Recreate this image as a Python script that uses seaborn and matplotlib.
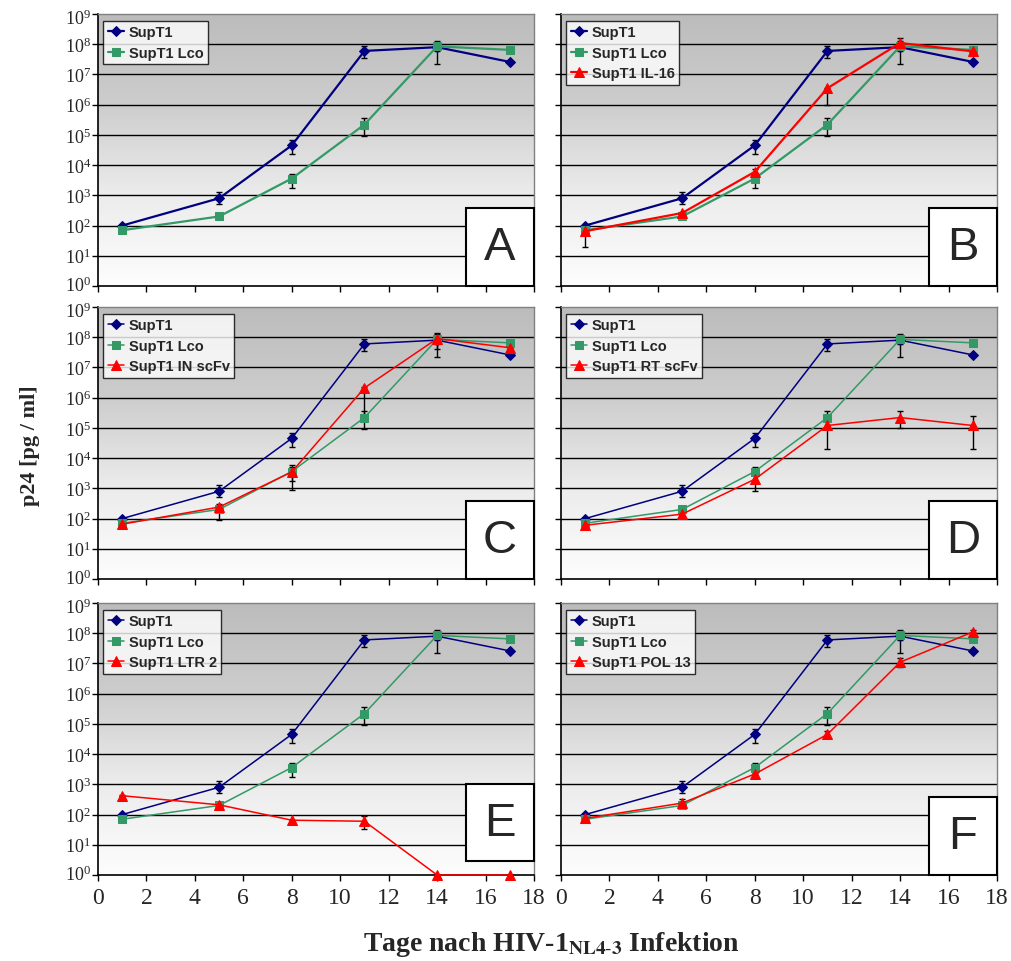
import numpy as np
import matplotlib
matplotlib.use("Agg")
import matplotlib.pyplot as plt
from matplotlib.colors import LinearSegmentedColormap
from matplotlib.patches import Rectangle
from matplotlib.transforms import ScaledTranslation
from matplotlib.ticker import LogFormatterMathtext, NullLocator, MultipleLocator
import seaborn as sns

# ── Data ──────────────────────────────────────────────────────────────────────
DAYS = [1, 5, 8, 11, 14, 17]

SUPT1    = [100, 800, 4.5e4, 6.0e7, 8.0e7, 2.6e7]
SUPT1_LO = [95, 500, 2.4e4, 3.4e7, 6.0e7, 2.5e7]
SUPT1_HI = [108, 1250, 7.0e4, 9.0e7, 1.1e8, 2.8e7]

LCO    = [70, 200, 3.6e3, 2.2e5, 8.5e7, 6.5e7]
LCO_LO = [66, 190, 1.8e3, 9.0e4, 2.3e7, 6.0e7]
LCO_HI = [74, 210, 5.0e3, 3.5e5, 1.3e8, 7.0e7]

PANELS    = ["A", "B", "C", "D", "E", "F"]
TREATMENT = [None, "SupT1 IL-16", "SupT1 IN scFv", "SupT1 RT scFv", "SupT1 LTR 2", "SupT1 POL 13"]
TREAT_VALS = [
    None,
    [65, 260, 6.0e3, 3.5e6, 1.1e8, 5.8e7],
    [65, 240, 3.5e3, 2.1e6, 9.0e7, 4.5e7],
    [60, 140, 2.0e3, 1.2e5, 2.2e5, 1.2e5],
    [420, 210, 65, 60, 1, 1],
    [75, 240, 2.2e3, 4.5e4, 1.1e7, 1.1e8],
]
TREAT_LO = [
    None,
    [20, 230, 5.0e3, 1.0e6, 9.0e7, 5.5e7],
    [60, 90, 900, 2.2e5, 4.0e7, 4.3e7],
    [55, 120, 800, 2.0e4, 1.0e5, 2.0e4],
    [400, 200, 62, 33, 1, 1],
    [70, 170, 2.0e3, 3.5e4, 7.5e6, 9.0e7],
]
TREAT_HI = [
    None,
    [70, 290, 7.5e3, 3.5e6, 1.6e8, 6.0e7],
    [70, 300, 6.0e3, 2.2e6, 1.4e8, 4.7e7],
    [65, 160, 3.0e3, 2.5e5, 3.5e5, 2.5e5],
    [440, 220, 68, 90, 1, 1],
    [80, 320, 2.4e3, 6.0e4, 1.5e7, 1.3e8],
]

X_TICKS = list(range(0, 19, 2))
Y_TICKS = [10.0 ** e for e in range(0, 10)]

# ── Style ────────────────────────────────────────────────────────────────────
sns.set_style("white")
plt.rcParams["font.family"] = ["Liberation Sans", "DejaVu Sans"]
plt.rcParams["mathtext.fontset"] = "stix"
plt.rcParams["mathtext.default"] = "regular"

C_SUPT1 = "#000080"
C_LCO = "#339966"
C_TREAT = "#ff0000"
LW = [1.6, 1.6, 1.1, 1.1, 1.1, 1.1]
BOX_Y = [0.0, 0.0, 0.0, 0.0, 0.05, 0.0]

grad = LinearSegmentedColormap.from_list("bg", ["#bcbcbc", "#cdcdcd", "#ececec", "#fdfdfd"])

fig = plt.figure(figsize=(10.11, 9.62), dpi=100)
W, H = 1011, 962
col_left = [98, 561]
row_top = [15, 308, 604]
ax_w, ax_h = 436, 272
left_axes = []

for i, letter in enumerate(PANELS):
    r, c = divmod(i, 2)
    ax = fig.add_axes([col_left[c] / W, (H - row_top[r] - ax_h) / H, ax_w / W, ax_h / H])
    ax.set_yscale("log")
    ax.set_xlim(0, 18)
    ax.set_ylim(1, 1e9)
    ax.set_autoscale_on(False)

    # gradient background
    ax.imshow(np.linspace(0, 1, 256).reshape(-1, 1), extent=[0, 1, 0, 1],
              transform=ax.transAxes, cmap=grad, aspect="auto", zorder=0)
    for e in range(1, 9):
        ax.axhline(10 ** e, color="black", lw=1, zorder=1)

    series = [("SupT1", SUPT1, SUPT1_LO, SUPT1_HI, C_SUPT1, "D", 5),
              ("SupT1 Lco", LCO, LCO_LO, LCO_HI, C_LCO, "s", 6)]
    if TREATMENT[i]:
        series.append((TREATMENT[i], TREAT_VALS[i], TREAT_LO[i], TREAT_HI[i], C_TREAT, "^", 6.5))

    for name, vals, lo, hi, col, mk, ms in series:
        v = np.array(vals, dtype=float)
        yerr = [v - np.array(lo), np.array(hi) - v]
        ax.errorbar(DAYS, v, yerr=yerr, fmt="none", ecolor="black", elinewidth=1,
                    capsize=2.5, capthick=1, zorder=2)
        sns.lineplot(x=DAYS, y=vals, color=col, marker=mk, markersize=ms,
                     markeredgecolor=col, lw=LW[i], label=name, ax=ax, zorder=3,
                     clip_on=False)

    ax.set_xlim(0, 18)
    ax.set_ylim(1, 1e9)

    # spines
    for s in ["left", "bottom"]:
        ax.spines[s].set_color("black")
        ax.spines[s].set_linewidth(1.2)
    for s in ["top", "right"]:
        ax.spines[s].set_color("#808080")
        ax.spines[s].set_linewidth(1)

    ax.set_yticks(Y_TICKS)
    ax.yaxis.set_minor_locator(NullLocator())
    ax.xaxis.set_major_locator(MultipleLocator(2))
    ax.tick_params(axis="both", direction="out", length=4, width=1, color="black",
                   left=True, bottom=True)
    if c == 0:
        ax.yaxis.set_major_formatter(LogFormatterMathtext())
        ax.tick_params(axis="y", labelsize=13, pad=1)
        left_axes.append(ax)
    else:
        ax.tick_params(axis="y", labelleft=False)
    if r == 2:
        ax.set_xticks(X_TICKS)
        ax.set_xticklabels([str(t) for t in X_TICKS], fontfamily="Liberation Serif")
        ax.tick_params(axis="x", labelsize=17, pad=5)
    else:
        ax.tick_params(axis="x", labelbottom=False)
    ax.set_xlabel("")
    ax.set_ylabel("")

    leg = ax.legend(loc="upper left", bbox_to_anchor=(0.012, 0.975), borderaxespad=0,
                    fancybox=False, frameon=True, handlelength=1.1, handletextpad=0.35,
                    labelspacing=0.45, borderpad=0.3,
                    prop={"family": "Liberation Sans", "weight": "bold", "size": 10.5})
    leg.get_frame().set_edgecolor("black")
    leg.get_frame().set_linewidth(1)
    leg.set_zorder(5)

    # panel letter box
    ax.add_patch(Rectangle((0.843, BOX_Y[i]), 0.157, 0.285, transform=ax.transAxes,
                           facecolor="white", edgecolor="black", lw=1.5, zorder=6,
                           clip_on=False))
    ax.text(0.843 + 0.157 / 2, BOX_Y[i] + 0.285 / 2, letter, transform=ax.transAxes,
            ha="center", va="center", fontsize=34, fontfamily="Liberation Sans", zorder=7)

fig.text(0.03, 0.537, "p24 [pg / ml]", rotation=90, ha="center", va="center",
         fontsize=16, fontweight="bold", fontfamily="Liberation Serif")
fig.text(0.545, 0.018, r"Tage nach HIV-1$_{\mathbf{NL4\text{-}3}}$ Infektion",
         ha="center", va="center", fontsize=20, fontweight="bold",
         fontfamily="Liberation Serif")

# nudge the outermost decade labels inward, as in the original
fig.canvas.draw()
for ax in left_axes:
    for t, tick in zip(ax.get_yticklabels(), ax.get_yticks()):
        t.set_fontfamily("Liberation Serif")
        if np.isclose(tick, 1e9):
            t.set_transform(t.get_transform() + ScaledTranslation(0, -2 / 72, fig.dpi_scale_trans))
        elif np.isclose(tick, 1):
            t.set_transform(t.get_transform() + ScaledTranslation(0, 2 / 72, fig.dpi_scale_trans))

fig.savefig("out.png", dpi=100)
